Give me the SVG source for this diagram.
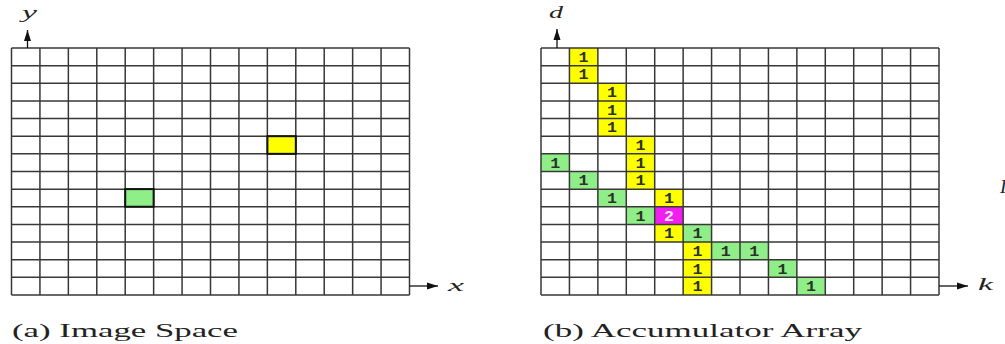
<svg xmlns="http://www.w3.org/2000/svg" width="1005" height="344" viewBox="0 0 1005 344">
<defs>
<style>
.grid{fill:none;stroke:#383838;stroke-width:1.5}
.y{fill:#ffff00}
.g{fill:#90ee88}
.m{fill:#f01ef0}
.hl{stroke:#111;stroke-width:2}
.n{font-family:"Liberation Mono","DejaVu Sans Mono",monospace;font-size:14px;font-weight:bold;fill:#2b332b;text-anchor:middle}
.n2{fill:#ffe6ff}
.ax{stroke:#111;stroke-width:1.3;fill:none}
.lab{font-family:"Liberation Serif","DejaVu Serif",serif;font-style:italic;font-size:17px;fill:#222}
.cap{font-family:"Liberation Serif","DejaVu Serif",serif;font-size:18px;fill:#222}
</style>
<marker id="ah" markerUnits="userSpaceOnUse" markerWidth="12" markerHeight="8" refX="11" refY="4" orient="auto">
<path d="M0,0.5 L11,4 L0,7.5 z" fill="#111"/>
</marker>
<path id="gridpath" d="M0,0H398M0,17.64H398M0,35.29H398M0,52.93H398M0,70.57H398M0,88.21H398M0,105.86H398M0,123.5H398M0,141.14H398M0,158.79H398M0,176.43H398M0,194.07H398M0,211.71H398M0,229.36H398M0,247H398M0,0V247M28.43,0V247M56.86,0V247M85.29,0V247M113.71,0V247M142.14,0V247M170.57,0V247M199,0V247M227.43,0V247M255.86,0V247M284.29,0V247M312.71,0V247M341.14,0V247M369.57,0V247M398,0V247"/>
</defs>
<rect width="1005" height="344" fill="#fff"/>

<g id="image-space">
<use href="#gridpath" class="grid" x="11.5" y="48"/>
<rect id="cell-yellow" class="y hl" x="267.4" y="136.2" width="28.43" height="17.64"/>
<rect id="cell-green" class="g hl" x="125.2" y="189.1" width="28.43" height="17.64"/>
</g>

<g id="accumulator-array">
<g id="cells">
<rect class="y" x="569.4" y="48" width="28.43" height="17.64"/>
<rect class="y" x="569.4" y="65.6" width="28.43" height="17.64"/>
<rect class="y" x="597.9" y="83.3" width="28.43" height="17.64"/>
<rect class="y" x="597.9" y="100.9" width="28.43" height="17.64"/>
<rect class="y" x="597.9" y="118.6" width="28.43" height="17.64"/>
<rect class="y" x="626.3" y="136.2" width="28.43" height="17.64"/>
<rect class="y" x="626.3" y="153.8" width="28.43" height="17.64"/>
<rect class="y" x="626.3" y="171.5" width="28.43" height="17.64"/>
<rect class="y" x="654.7" y="189.1" width="28.43" height="17.64"/>
<rect class="m" x="654.7" y="206.8" width="28.43" height="17.64"/>
<rect class="y" x="654.7" y="224.4" width="28.43" height="17.64"/>
<rect class="y" x="683.2" y="242" width="28.43" height="17.64"/>
<rect class="y" x="683.2" y="259.7" width="28.43" height="17.64"/>
<rect class="y" x="683.2" y="277.3" width="28.43" height="17.64"/>
<rect class="g" x="541" y="153.8" width="28.43" height="17.64"/>
<rect class="g" x="569.4" y="171.5" width="28.43" height="17.64"/>
<rect class="g" x="597.9" y="189.1" width="28.43" height="17.64"/>
<rect class="g" x="626.3" y="206.8" width="28.43" height="17.64"/>
<rect class="g" x="683.2" y="224.4" width="28.43" height="17.64"/>
<rect class="g" x="711.6" y="242" width="28.43" height="17.64"/>
<rect class="g" x="740" y="242" width="28.43" height="17.64"/>
<rect class="g" x="768.4" y="259.7" width="28.43" height="17.64"/>
<rect class="g" x="796.9" y="277.3" width="28.43" height="17.64"/>
</g>
<use href="#gridpath" class="grid" x="541" y="48"/>
<g id="counts">
<text class="n" x="583.6" y="61.8" textLength="10" lengthAdjust="spacingAndGlyphs">1</text>
<text class="n" x="583.6" y="79.4" textLength="10" lengthAdjust="spacingAndGlyphs">1</text>
<text class="n" x="612.1" y="97.1" textLength="10" lengthAdjust="spacingAndGlyphs">1</text>
<text class="n" x="612.1" y="114.7" textLength="10" lengthAdjust="spacingAndGlyphs">1</text>
<text class="n" x="612.1" y="132.4" textLength="10" lengthAdjust="spacingAndGlyphs">1</text>
<text class="n" x="640.5" y="150" textLength="10" lengthAdjust="spacingAndGlyphs">1</text>
<text class="n" x="640.5" y="167.6" textLength="10" lengthAdjust="spacingAndGlyphs">1</text>
<text class="n" x="640.5" y="185.3" textLength="10" lengthAdjust="spacingAndGlyphs">1</text>
<text class="n" x="668.9" y="202.9" textLength="10" lengthAdjust="spacingAndGlyphs">1</text>
<text class="n n2" x="668.9" y="220.6" textLength="10" lengthAdjust="spacingAndGlyphs">2</text>
<text class="n" x="668.9" y="238.2" textLength="10" lengthAdjust="spacingAndGlyphs">1</text>
<text class="n" x="697.4" y="255.8" textLength="10" lengthAdjust="spacingAndGlyphs">1</text>
<text class="n" x="697.4" y="273.5" textLength="10" lengthAdjust="spacingAndGlyphs">1</text>
<text class="n" x="697.4" y="291.1" textLength="10" lengthAdjust="spacingAndGlyphs">1</text>
<text class="n" x="555.2" y="167.6" textLength="10" lengthAdjust="spacingAndGlyphs">1</text>
<text class="n" x="583.6" y="185.3" textLength="10" lengthAdjust="spacingAndGlyphs">1</text>
<text class="n" x="612.1" y="202.9" textLength="10" lengthAdjust="spacingAndGlyphs">1</text>
<text class="n" x="640.5" y="220.6" textLength="10" lengthAdjust="spacingAndGlyphs">1</text>
<text class="n" x="697.4" y="238.2" textLength="10" lengthAdjust="spacingAndGlyphs">1</text>
<text class="n" x="725.8" y="255.8" textLength="10" lengthAdjust="spacingAndGlyphs">1</text>
<text class="n" x="754.2" y="255.8" textLength="10" lengthAdjust="spacingAndGlyphs">1</text>
<text class="n" x="782.6" y="273.5" textLength="10" lengthAdjust="spacingAndGlyphs">1</text>
<text class="n" x="811.1" y="291.1" textLength="10" lengthAdjust="spacingAndGlyphs">1</text>
</g>
</g>

<g id="connectors">
<line class="ax" x1="27.5" y1="48" x2="27.5" y2="30" marker-end="url(#ah)"/>
<line class="ax" x1="409.5" y1="286" x2="438" y2="286" marker-end="url(#ah)"/>
<line class="ax" x1="557" y1="48" x2="557" y2="29" marker-end="url(#ah)"/>
<line class="ax" x1="939" y1="286" x2="968" y2="286" marker-end="url(#ah)"/>
</g>

<g id="labels">
<text class="lab" x="22" y="18" textLength="15" lengthAdjust="spacingAndGlyphs">y</text>
<text class="lab" x="448" y="291" textLength="16" lengthAdjust="spacingAndGlyphs">x</text>
<text class="lab" x="549" y="18" textLength="14" lengthAdjust="spacingAndGlyphs">d</text>
<text class="lab" x="978" y="290" textLength="15" lengthAdjust="spacingAndGlyphs">k</text>
<text class="lab" x="1000" y="193" style="font-size:19px">I</text>
<text class="cap" x="12" y="337" textLength="226" lengthAdjust="spacingAndGlyphs">(a) Image Space</text>
<text class="cap" x="543" y="337" textLength="319" lengthAdjust="spacingAndGlyphs">(b) Accumulator Array</text>
</g>
</svg>
